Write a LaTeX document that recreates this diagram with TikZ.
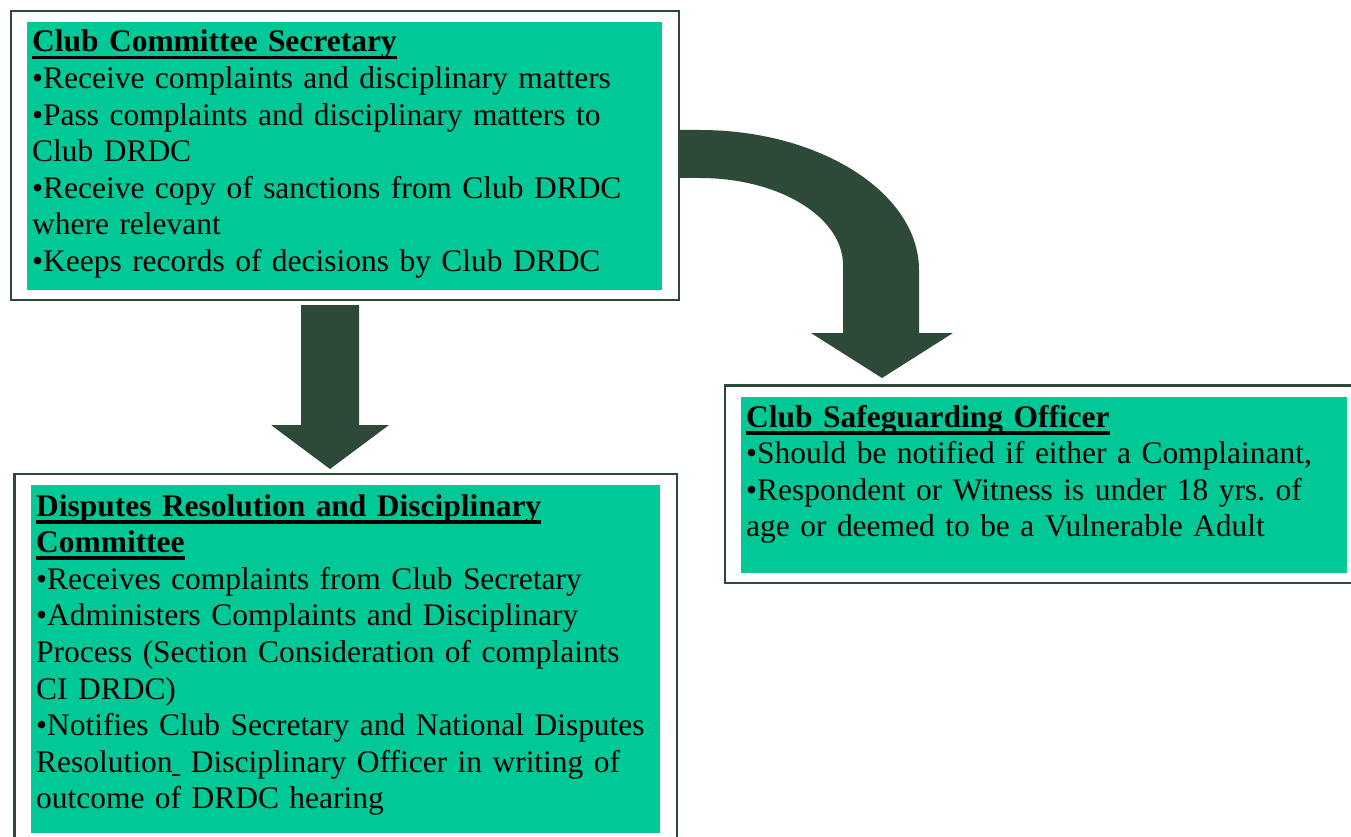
\documentclass[tikz,border=0pt]{standalone}
\usepackage{fontspec}
\setmainfont{Liberation Serif}
\frenchspacing
\definecolor{boxgreen}{HTML}{00C896}
\definecolor{darkgreen}{HTML}{2C4A37}
\newcommand{\ttl}[1]{\leavevmode\setbox0\hbox{\bfseries #1}\rlap{\rule[-7.5pt]{\wd0}{3.8pt}}\box0}
\newcommand{\uspace}{\rule[-4pt]{8pt}{1.8pt}}
\newcommand{\boxfont}{\fontsize{31.45}{36.6}\selectfont\frenchspacing}
\tikzset{
  outerbox/.style={draw=darkgreen, line width=2.6pt, fill=white},
  innerbox/.style={fill=boxgreen},
  boxtext/.style={anchor=base west, inner sep=0pt, text width=640pt, align=left,
    font=\boxfont},
  blockarrow/.style={fill=darkgreen},
}
\begin{document}
\begin{tikzpicture}[x=1pt,y=-1pt]
\useasboundingbox (0,0) rectangle (1351,837);
\clip (0,0) rectangle (1351,837);
% curved arrow
\fill[blockarrow] (670,130) -- (700,130)
  .. controls (820,130) and (919,193) .. (919,270)
  -- (919,333) -- (953,333) -- (882,378) -- (811,333) -- (843,333) -- (843,265)
  .. controls (843,217) and (779,178) .. (700,178) -- (670,178) -- cycle;
% box 1
\draw[outerbox] (11,11) rectangle (679,300);
\fill[innerbox] (27,22) rectangle (662,290);
\node[boxtext] (sec) at (32,52) {\ttl{Club Committee Secretary}\\
•Receive complaints and disciplinary matters\\
•Pass complaints and disciplinary matters to\\
Club DRDC\\
•Receive copy of sanctions from Club DRDC\\
where relevant\\
•Keeps records of decisions by Club DRDC};
% straight arrow
\fill[blockarrow] (301,305) -- (359,305) -- (359,425) -- (389,425) -- (330,469)
  -- (271,425) -- (301,425) -- cycle;
% box 3
\draw[outerbox] (14.5,474) rectangle (677,870);
\fill[innerbox] (31,485) rectangle (660,833);
\node[boxtext] (drdc) at (36,516) {\ttl{Disputes Resolution and Disciplinary}\\
\ttl{Committee}\\
•Receives complaints from Club Secretary\\
•Administers Complaints and Disciplinary\\
Process (Section Consideration of complaints\\
CI DRDC)\\
•Notifies Club Secretary and National Disputes\\
Resolution\uspace\ Disciplinary Officer in writing of\\
outcome of DRDC hearing};
% box 2
\draw[outerbox] (725,385.5) rectangle (1380,583);
\fill[innerbox] (741,397) rectangle (1347,573);
\node[boxtext] (safe) at (746,427) {\ttl{Club Safeguarding Officer}\\
•Should be notified if either a Complainant,\\
•Respondent or Witness is under 18 yrs. of\\
age or deemed to be a Vulnerable Adult};
\end{tikzpicture}
\end{document}
